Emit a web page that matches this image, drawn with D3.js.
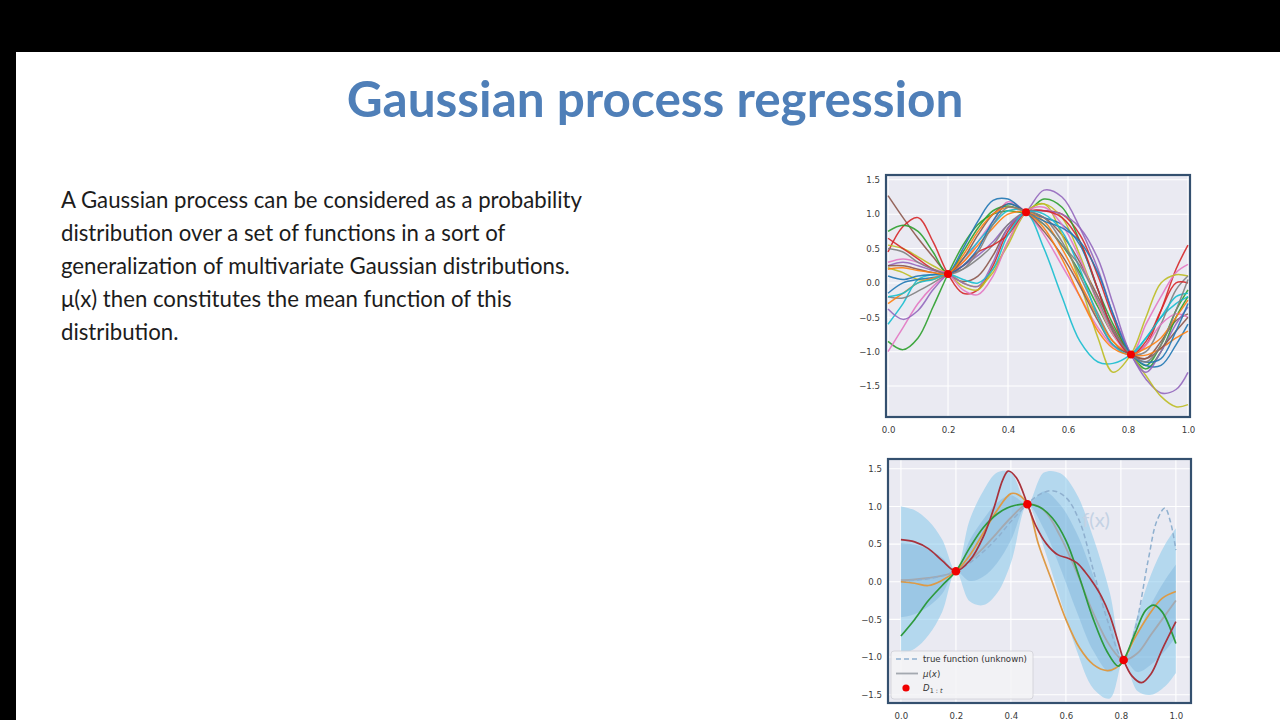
<!DOCTYPE html>
<html><head><meta charset="utf-8">
<script src="https://cdn.jsdelivr.net/npm/d3@7"></script>
<style>html,body{margin:0;padding:0;background:#000;}svg{display:block;}</style>
</head><body>
<svg id="c" width="1280" height="720"></svg>
<script>
// ---------- text ----------
const titleText = "Gaussian process regression";
const bodyLines = [
  "A Gaussian process can be considered as a probability",
  "distribution over a set of functions in a sort of",
  "generalization of multivariate Gaussian distributions.",
  "\u03bc(x) then constitutes the mean function of this",
  "distribution."
];
// ---------- ticks ----------
const xTicks = [0.0, 0.2, 0.4, 0.6, 0.8, 1.0];
const yTicks = [-1.5, -1.0, -0.5, 0.0, 0.5, 1.0, 1.5];
// ---------- observed points ----------
const obsX = [0.2, 0.46, 0.81];
const obsY = [0.13, 1.03, -1.04];
// ---------- top chart: posterior samples ----------
const topX = [0, .05, .1, .15, .2, .25, .3, .35, .4, .46, .52, .58, .64, .7, .75, .81, .86, .91, .96, 1.0];
const s01 = [1.27,0.95,0.65,0.38,0.13,0.02,0.1,0.4,0.8,1.03,0.95,0.7,0.3,-0.2,-0.65,-1.04,-1.1,-0.85,-0.55,-0.45];
const s02 = [0.45,0.82,0.95,0.6,0.13,-0.15,-0.1,0.25,0.75,1.03,1.05,1.0,0.7,0.1,-0.5,-1.04,-0.9,-0.4,0.2,0.55];
const s03 = [0.75,0.84,0.75,0.45,0.13,0.45,0.8,1.05,1.12,1.03,0.85,0.55,0.15,-0.35,-0.75,-1.04,-1.2,-0.9,-0.4,-0.1];
const s04 = [-0.85,-0.97,-0.8,-0.35,0.13,0.55,0.85,1.0,1.05,1.03,1.22,1.1,0.6,-0.1,-0.6,-1.04,-1.25,-1.0,-0.5,-0.2];
const s05 = [-1.0,-0.65,-0.3,-0.05,0.13,0.3,0.6,0.9,1.18,1.03,0.7,0.25,-0.2,-0.65,-0.92,-1.04,-0.6,-0.2,0.15,0.27];
const s06 = [-0.6,-0.3,0.05,0.12,0.13,0.35,0.6,0.85,1.05,1.03,0.5,-0.2,-0.85,-1.15,-1.17,-1.04,-0.8,-0.5,-0.3,-0.2];
const s07 = [-0.38,-0.53,-0.4,-0.1,0.13,0.25,0.4,0.6,0.85,1.03,1.35,1.25,0.8,0.2,-0.45,-1.04,-1.4,-1.6,-1.55,-1.3];
const s08 = [0.22,0.15,0.05,0.05,0.13,0.0,-0.05,0.15,0.6,1.03,1.15,0.7,0.0,-0.8,-1.3,-1.04,-0.5,0.0,0.12,0.1];
const s09 = [0.55,0.5,0.38,0.25,0.13,-0.05,-0.1,0.2,0.55,1.03,1.15,0.95,0.4,-0.3,-0.75,-1.04,-1.35,-1.65,-1.8,-1.77];
const s10 = [-0.15,0.0,0.05,0.08,0.13,0.5,0.9,1.2,1.22,1.03,0.95,0.85,0.55,-0.1,-0.7,-1.04,-1.2,-1.2,-0.9,-0.6];
const s11 = [-0.2,-0.22,-0.12,0.0,0.13,0.2,0.35,0.55,0.85,1.03,0.95,0.6,0.1,-0.45,-0.85,-1.04,-1.0,-0.6,-0.1,0.1];
const s12 = [-0.3,-0.15,0.0,0.07,0.13,0.3,0.55,0.8,1.0,1.03,0.9,0.5,0.0,-0.5,-0.85,-1.04,-1.05,-0.95,-0.8,-0.7];
const s13 = [0.3,0.35,0.3,0.2,0.13,-0.1,-0.17,0.1,0.6,1.03,1.1,0.85,0.35,-0.3,-0.75,-1.04,-0.9,-0.6,-0.45,-0.5];
const s14 = [0.25,0.3,0.25,0.18,0.13,0.0,-0.05,0.3,0.8,1.03,1.05,1.0,0.8,0.35,-0.3,-1.04,-1.3,-1.0,-0.6,-0.35];
const s15 = [0.65,0.5,0.35,0.2,0.13,0.25,0.45,0.55,0.7,1.03,1.05,0.95,0.6,-0.1,-0.7,-1.04,-0.85,-0.4,0.0,0.0];
const s16 = [0.25,0.25,0.2,0.15,0.13,0.35,0.7,1.0,1.15,1.03,0.75,0.4,-0.05,-0.55,-0.9,-1.04,-1.1,-0.95,-0.7,-0.5];
const s17 = [0.1,0.05,0.1,0.12,0.13,0.25,0.5,0.9,1.15,1.03,0.9,0.8,0.6,0.15,-0.45,-1.04,-1.15,-1.1,-0.7,-0.3];
const s18 = [-0.2,-0.15,0.0,0.05,0.13,0.05,0.0,0.2,0.7,1.03,1.0,0.75,0.2,-0.5,-0.9,-1.04,-0.8,-0.5,-0.2,-0.15];
const s19 = [0.2,0.22,0.18,0.15,0.13,0.4,0.75,1.0,1.1,1.03,0.8,0.35,-0.2,-0.7,-0.95,-1.04,-0.95,-0.8,-0.5,-0.25];
const s20 = [0.5,0.45,0.3,0.2,0.13,0.2,0.45,0.85,1.1,1.03,0.85,0.55,0.25,-0.25,-0.7,-1.04,-1.15,-0.9,-0.4,0.05];
const topSamples = [s01,s02,s03,s04,s05,s06,s07,s08,s09,s10,s11,s12,s13,s14,s15,s16,s17,s18,s19,s20];
const topColors = ["#8c564b","#d62728","#2ca02c","#2ca02c","#e377c2","#17becf","#9467bd","#bcbd22","#bcbd22","#1f77b4",
                   "#7f7f7f","#ff7f0e","#e377c2","#9467bd","#d62728","#8c564b","#1f77b4","#17becf","#ff7f0e","#7f7f7f"];
// ---------- bottom chart ----------
const botX = [0,.05,.1,.15,.2,.25,.3,.35,.4,.46,.52,.58,.64,.7,.76,.81,.86,.91,.96,1.0];
const muY = [0.02,0.03,0.05,0.08,0.14,0.28,0.45,0.65,0.85,1.03,0.95,0.6,0.12,-0.42,-0.85,-1.04,-0.95,-0.7,-0.45,-0.25];
const sigma = [0.49,0.46,0.38,0.24,0,0.27,0.38,0.4,0.3,0,0.25,0.42,0.52,0.5,0.35,0,0.25,0.4,0.47,0.48];
const trueX = [0,.05,.1,.15,.2,.25,.3,.35,.4,.46,.5,.55,.6,.65,.7,.75,.81,.85,.9,.93,.96,.98,1.0];
const trueY = [0.0,0.02,0.04,0.08,0.14,0.25,0.4,0.58,0.8,1.03,1.15,1.21,1.12,0.8,0.15,-0.5,-1.04,-0.65,0.3,0.8,0.98,0.8,0.42];
const redX = [0,.05,.1,.15,.2,.25,.3,.34,.37,.39,.42,.46,.49,.53,.57,.61,.64,.67,.7,.73,.76,.79,.81,.84,.875,.91,.95,1.0];
const redY = [0.56,0.53,0.44,0.28,0.14,0.28,0.6,1.0,1.35,1.47,1.38,1.03,0.75,0.5,0.36,0.31,0.25,0.13,-0.02,-0.2,-0.45,-0.8,-1.04,-1.25,-1.34,-1.22,-0.9,-0.53];
const orangeX = [0,.05,.1,.15,.2,.25,.3,.35,.4,.43,.46,.5,.55,.6,.65,.7,.75,.78,.81,.85,.9,.95,1.0];
const orangeY = [0.0,-0.02,-0.05,0.02,0.14,0.35,0.65,0.95,1.17,1.15,1.03,0.5,0.0,-0.5,-0.88,-1.1,-1.18,-1.15,-1.04,-0.75,-0.45,-0.22,-0.13];
const greenX = [0,.05,.1,.15,.2,.25,.3,.35,.4,.46,.5,.55,.6,.65,.7,.75,.79,.81,.85,.89,.92,.95,1.0];
const greenY = [-0.72,-0.5,-0.25,-0.05,0.14,0.45,0.72,0.9,1.0,1.03,1.0,0.85,0.55,0.05,-0.5,-0.93,-1.12,-1.04,-0.7,-0.38,-0.31,-0.4,-0.82];
const legendLabels = ["true function (unknown)", "\u03bc(x)", "D"];

// ---------- drawing ----------
const svg = d3.select("#c");
svg.append("rect").attr("width",1280).attr("height",720).attr("fill","#000");
svg.append("rect").attr("x",16).attr("y",52).attr("width",1264).attr("height",668).attr("fill","#fff");

svg.append("text").attr("x",655).attr("y",117).attr("text-anchor","middle")
  .attr("font-family","Lato, sans-serif").attr("font-weight",700).attr("font-size",49.5)
  .attr("fill","#4f7fb8").text(titleText);

svg.append("g").selectAll("text").data(bodyLines).join("text")
  .attr("x",61).attr("y",(d,i)=>208+i*33)
  .attr("font-family","Lato, sans-serif").attr("font-size",22.2).attr("fill","#1c1c1c")
  .text(d=>d);

const tickFont = "DejaVu Sans, sans-serif";
const fmt = d3.format(".1f");
const fmtY = v => (v<0 ? "\u2212"+fmt(-v) : fmt(v));

function panel(g, box, xDom, yDom, id){
  const x = d3.scaleLinear().domain(xDom).range([box.x0, box.x1]);
  const y = d3.scaleLinear().domain(yDom).range([box.y1, box.y0]);
  g.append("rect").attr("x",box.x0).attr("y",box.y0).attr("width",box.x1-box.x0).attr("height",box.y1-box.y0).attr("fill","#eaeaf2");
  g.append("clipPath").attr("id",id).append("rect").attr("x",box.x0).attr("y",box.y0).attr("width",box.x1-box.x0).attr("height",box.y1-box.y0);
  const grid = g.append("g");
  grid.selectAll("line.v").data(xTicks).join("line").attr("class","v")
    .attr("x1",d=>x(d)).attr("x2",d=>x(d)).attr("y1",box.y0).attr("y2",box.y1)
    .attr("stroke","#fff").attr("stroke-width",1.1);
  grid.selectAll("line.h").data(yTicks).join("line").attr("class","h")
    .attr("y1",d=>y(d)).attr("y2",d=>y(d)).attr("x1",box.x0).attr("x2",box.x1)
    .attr("stroke","#fff").attr("stroke-width",1.1);
  const xa = g.append("g").attr("transform",`translate(0,${box.y1+4})`)
    .call(d3.axisBottom(x).tickValues(xTicks).tickFormat(fmt).tickSize(0).tickPadding(6));
  const ya = g.append("g").attr("transform",`translate(${box.x0-4},0)`)
    .call(d3.axisLeft(y).tickValues(yTicks).tickFormat(fmtY).tickSize(0).tickPadding(2));
  [xa,ya].forEach(a=>{ a.select(".domain").remove();
    a.selectAll("text").attr("font-family",tickFont).attr("font-size",8.6).attr("fill","#3a3a3a"); });
  const plot = g.append("g").attr("clip-path",`url(#${id})`);
  return {x,y,plot};
}

// top chart
const topBox = {x0:886, x1:1190, y0:175, y1:417};
const gt = svg.append("g");
const T = panel(gt, topBox, [-0.0067,1.0067], [-1.95,1.57], "clipTop");
const lineTop = d3.line().x((d,i)=>T.x(topX[i])).y(d=>T.y(d)).curve(d3.curveCatmullRom.alpha(0.5));
T.plot.selectAll("path.s").data(topSamples).join("path").attr("class","s")
  .attr("d",lineTop).attr("fill","none").attr("stroke",(d,i)=>topColors[i])
  .attr("stroke-width",1.5).attr("stroke-opacity",0.9);
T.plot.selectAll("circle").data(obsX).join("circle")
  .attr("cx",d=>T.x(d)).attr("cy",(d,i)=>T.y(obsY[i])).attr("r",4).attr("fill","#f00000");
gt.append("rect").attr("x",topBox.x0).attr("y",topBox.y0).attr("width",topBox.x1-topBox.x0).attr("height",topBox.y1-topBox.y0)
  .attr("fill","none").attr("stroke","#34506f").attr("stroke-width",2.2);

// bottom chart
const botBox = {x0:888, x1:1191, y0:459, y1:703};
const gb = svg.append("g");
const B = panel(gb, botBox, [-0.047,1.055], [-1.61,1.63], "clipBot");
const cr = d3.curveCatmullRom.alpha(0.5);
const band = k => d3.area().x((d,i)=>B.x(botX[i])).y0((d,i)=>B.y(d - k*sigma[i])).y1((d,i)=>B.y(d + k*sigma[i])).curve(cr);
B.plot.append("path").datum(muY).attr("d",band(2)).attr("fill","rgb(135,200,235)").attr("fill-opacity",0.55);
B.plot.append("path").datum(muY).attr("d",band(1)).attr("fill","rgb(70,140,200)").attr("fill-opacity",0.22);
const lineXY = xs => d3.line().x((d,i)=>B.x(xs[i])).y(d=>B.y(d)).curve(cr);
B.plot.append("path").datum(muY).attr("d",lineXY(botX)).attr("fill","none").attr("stroke","#a4a9b0").attr("stroke-width",1.8);
B.plot.append("path").datum(trueY).attr("d",lineXY(trueX)).attr("fill","none").attr("stroke","#8fb0cf").attr("stroke-width",1.5).attr("stroke-dasharray","5,3");
B.plot.append("path").datum(orangeY).attr("d",lineXY(orangeX)).attr("fill","none").attr("stroke","#dd9a45").attr("stroke-width",1.7);
B.plot.append("path").datum(greenY).attr("d",lineXY(greenX)).attr("fill","none").attr("stroke","#2e9a3e").attr("stroke-width",1.7);
B.plot.append("path").datum(redY).attr("d",lineXY(redX)).attr("fill","none").attr("stroke","#a8323c").attr("stroke-width",1.7);
B.plot.selectAll("circle").data(obsX).join("circle")
  .attr("cx",d=>B.x(d)).attr("cy",(d,i)=>B.y(obsY[i]+ (i===0?0.01:0))).attr("r",4.3).attr("fill","#f00000");
B.plot.append("text").attr("x",B.x(0.71)).attr("y",B.y(0.8)).attr("text-anchor","middle").attr("dominant-baseline","middle")
  .attr("font-family","Lato, sans-serif").attr("font-size",20).attr("fill","#c4d2e4").text("f(x)");

// legend
const lg = gb.append("g");
lg.append("rect").attr("x",891).attr("y",651).attr("width",142).attr("height",48).attr("rx",3)
  .attr("fill","#f3f3f6").attr("fill-opacity",0.85).attr("stroke","#cfcfd6").attr("stroke-width",0.8);
lg.append("line").attr("x1",896).attr("x2",918).attr("y1",659).attr("y2",659).attr("stroke","#8fb0cf").attr("stroke-width",1.5).attr("stroke-dasharray","5,3");
lg.append("line").attr("x1",896).attr("x2",918).attr("y1",673.5).attr("y2",673.5).attr("stroke","#a4a9b0").attr("stroke-width",1.8);
lg.append("circle").attr("cx",906).attr("cy",688).attr("r",3.6).attr("fill","#f00000");
const lt = lg.append("g").attr("font-family",tickFont).attr("font-size",8.6).attr("fill","#333");
lt.append("text").attr("x",923).attr("y",662).text(legendLabels[0]);
const mu = lt.append("text").attr("x",923).attr("y",676.5);
mu.append("tspan").attr("font-style","italic").text("\u03bc");
mu.append("tspan").text("(");
mu.append("tspan").attr("font-style","italic").text("x");
mu.append("tspan").text(")");
const dl = lt.append("text").attr("x",923).attr("y",691);
dl.append("tspan").attr("font-style","italic").text(legendLabels[2]);
dl.append("tspan").attr("font-size",6.5).attr("dy",2).text("1 : ");
dl.append("tspan").attr("font-size",6.5).attr("font-style","italic").text("t");

gb.append("rect").attr("x",botBox.x0).attr("y",botBox.y0).attr("width",botBox.x1-botBox.x0).attr("height",botBox.y1-botBox.y0)
  .attr("fill","none").attr("stroke","#34506f").attr("stroke-width",2.2);
</script>
</body></html>
